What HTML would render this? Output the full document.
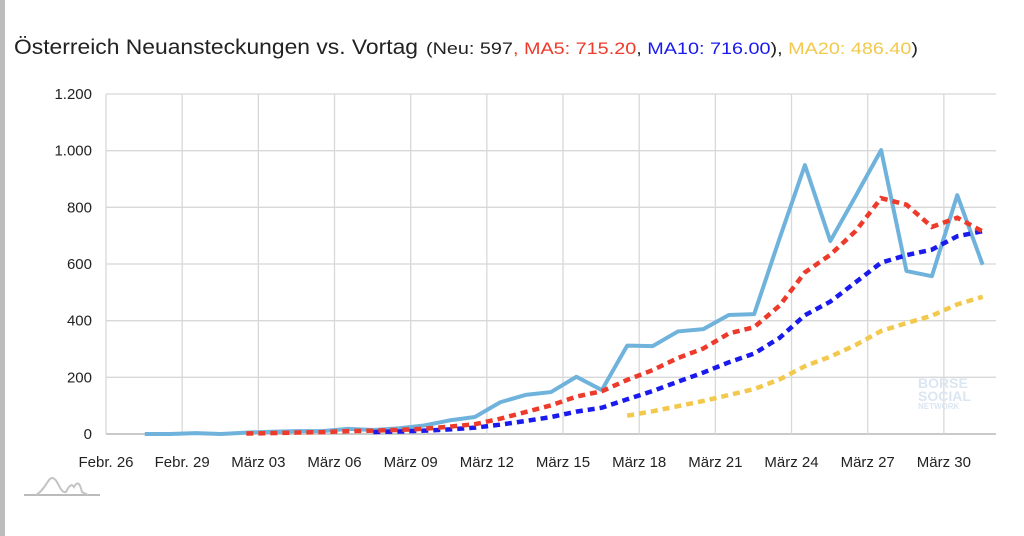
<!DOCTYPE html>
<html><head><meta charset="utf-8"><style>
html,body{margin:0;padding:0;background:#fff;}
body{width:1024px;height:536px;position:relative;overflow:hidden;font-family:"Liberation Sans",sans-serif;}
#lb{position:absolute;left:0;top:0;width:5px;height:536px;background:#bcbcbc;}
</style></head><body>
<div id="lb"></div>
<svg id="s" width="1024" height="536" style="position:absolute;left:0;top:0" xmlns="http://www.w3.org/2000/svg">
<text x="14" y="54" font-size="21" fill="#222" font-family="Liberation Sans, sans-serif" textLength="404" lengthAdjust="spacingAndGlyphs">Österreich Neuansteckungen vs. Vortag</text>
<text x="426" y="54" font-size="17" font-family="Liberation Sans, sans-serif" textLength="492" lengthAdjust="spacingAndGlyphs"><tspan fill="#222">(Neu: 597</tspan><tspan fill="#ee3a2a">, MA5: 715.20</tspan><tspan fill="#222">, </tspan><tspan fill="#1a1aee">MA10: 716.00</tspan><tspan fill="#222">), </tspan><tspan fill="#f2c94c">MA20: 486.40</tspan><tspan fill="#222">)</tspan></text>
<g id="grid"></g>
<g id="ser"></g>
<text x="918" y="388" font-size="14" font-weight="bold" fill="#dbe6f2">BÖRSE</text>
<text x="918" y="401" font-size="14" font-weight="bold" fill="#dbe6f2">SOCIAL</text>
<text x="918" y="409" font-size="8" font-weight="bold" fill="#dbe6f2">NETWORK</text>
<path d="M24,495 L100,495" stroke="#bbb" stroke-width="2"/>
<path d="M36,495 C45,490 48,478 52,478 C58,478 60,494 66,492 C70,484 72,484 74,487 C78,480 80,484 82,492 L88,495" stroke="#c4c4c4" stroke-width="2" fill="none"/>
</svg>
<script>
var g=document.getElementById('grid'),S=document.getElementById('ser'),ns='http://www.w3.org/2000/svg';
function el(t,a,p,txt){var e=document.createElementNS(ns,t);for(var k in a)e.setAttribute(k,a[k]);if(txt)e.textContent=txt;(p||g).appendChild(e);return e;}
var y0=434,py=340/1200;
for(var v=0;v<=1200;v+=200){var y=y0-v*py;el('line',{x1:106,x2:996,y1:y,y2:y,stroke:v==0?'#aaa':'#d8d8d8','stroke-width':1.3});
el('text',{x:92,y:y+5,'font-size':15,'text-anchor':'end',fill:'#222'},null,v==0?'0':(v>=1000?'1.'+String(v%1000).padStart(3,'0'):String(v)));}
var labs=['Febr. 26','Febr. 29','März 03','März 06','März 09','März 12','März 15','März 18','März 21','März 24','März 27','März 30'];
for(var i=0;i<12;i++){var x=106+76.17*i;el('line',{x1:x,x2:x,y1:94,y2:y0,stroke:'#d8d8d8','stroke-width':1.3});
el('text',{x:x,y:467,'font-size':15,'text-anchor':'middle',fill:'#222'},null,labs[i]);}
var d=[null,0,0,3,0,5,8,10,10,18,14,20,30,48,60,112,138,148,202,155,312,310,362,370,420,423,690,949,681,840,1002,575,557,843,597];
function X(i){return 119.4+25.39*i;}
function ma(n){var p=[];for(var i=n;i<d.length;i++){var s=0;for(var j=i-n+1;j<=i;j++)s+=d[j];p.push(X(i)+','+(y0-s/n*py));}return p.join(' ');}
var raw=[];for(var i=1;i<d.length;i++)raw.push(X(i)+','+(y0-d[i]*py));
el('polyline',{points:ma(20),fill:'none',stroke:'#f2c94c','stroke-width':4.5,'stroke-dasharray':'7 5'},S);
el('polyline',{points:raw.join(' '),fill:'none',stroke:'#6fb3dc','stroke-width':4,'stroke-linejoin':'round'},S);
el('polyline',{points:ma(10),fill:'none',stroke:'#1a1aee','stroke-width':4.5,'stroke-dasharray':'7 5'},S);
el('polyline',{points:ma(5),fill:'none',stroke:'#ee3a2a','stroke-width':4.5,'stroke-dasharray':'7 5'},S);
</script>
</body></html>
